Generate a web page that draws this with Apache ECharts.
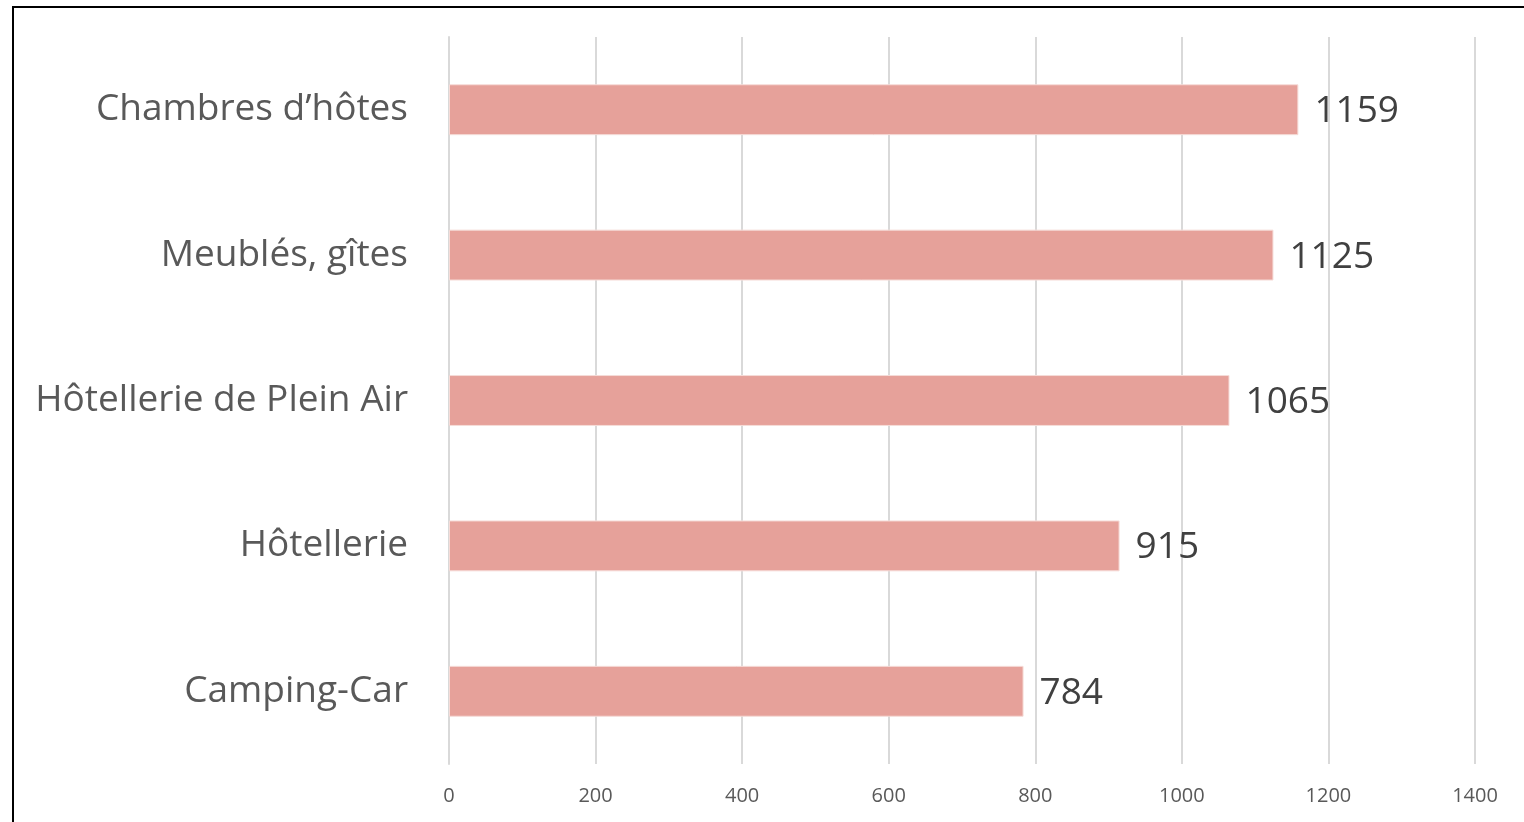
<!DOCTYPE html>
<html>
<head>
<meta charset="utf-8">
<script src="https://cdn.jsdelivr.net/npm/echarts@6/dist/echarts.min.js"></script>
<style>
html,body{margin:0;padding:0;background:#fff;}
#chart{width:1524px;height:822px;}
</style>
</head>
<body>
<div id="chart"></div>
<script>
const categories = ["Camping-Car", "Hôtellerie", "Hôtellerie de Plein Air", "Meublés, gîtes", "Chambres d’hôtes"];
const values = [784, 915, 1065, 1125, 1159];
const axisMin = 0, axisMax = 1400, axisStep = 200;

const chart = echarts.init(document.getElementById('chart'));
chart.setOption({
  backgroundColor: '#ffffff',
  animation: false,
  graphic: [{
    type: 'rect',
    shape: { x: 13, y: 7, width: 1600, height: 900 },
    style: { fill: 'none', stroke: '#000000', lineWidth: 2 },
    silent: true
  }],
  grid: { left: 449, right: 49, top: 37, bottom: 58, containLabel: false },
  xAxis: {
    type: 'value', min: axisMin, max: axisMax, interval: axisStep,
    axisLine: { show: false }, axisTick: { show: false },
    splitLine: { show: true, lineStyle: { color: '#d9d9d9', width: 2 } },
    axisLabel: { color: '#595959', fontSize: 20, fontFamily: 'Open Sans', margin: 22,
      formatter: v => String(v) }
  },
  yAxis: {
    type: 'category', data: categories,
    axisLine: { show: true, lineStyle: { color: '#d9d9d9', width: 2 } },
    axisTick: { show: false },
    axisLabel: { color: '#595959', fontSize: 37, fontFamily: 'Open Sans', margin: 41, padding: [4, 0, 0, 0] }
  },
  series: [{
    type: 'bar', data: values, barWidth: '35%',
    itemStyle: { color: '#E6A19A', borderColor: '#f6dcd8', borderWidth: 1 },
    label: { show: true, position: 'right', distance: 16, offset: [0, 2], color: '#404040', fontSize: 37, fontFamily: 'Open Sans' }
  }]
});
</script>
</body>
</html>
